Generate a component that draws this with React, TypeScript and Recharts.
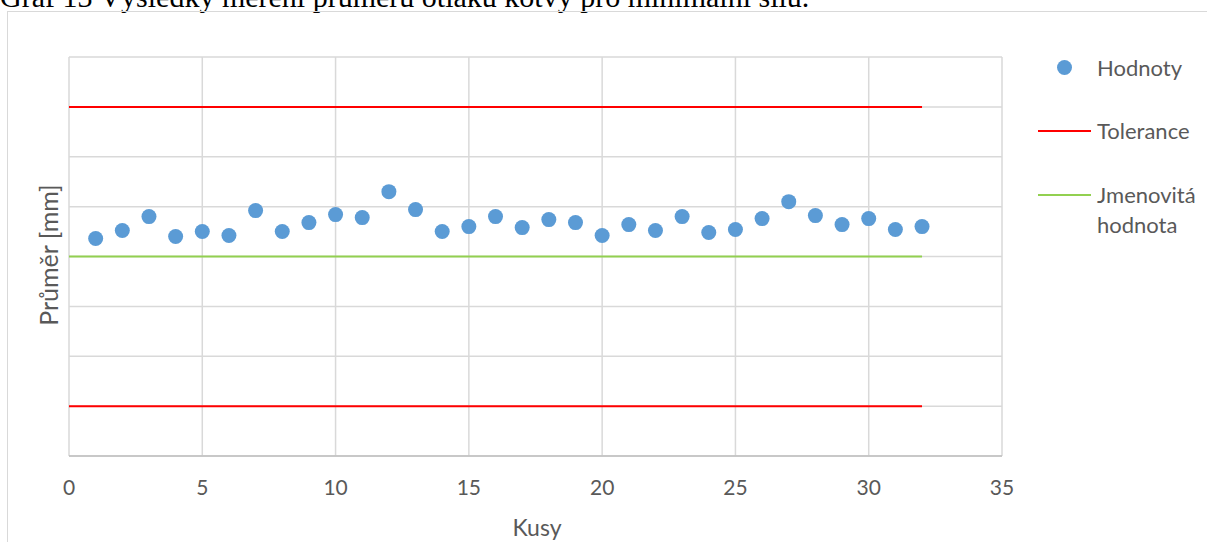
import React from 'react';
import {
  ComposedChart,
  Scatter,
  Line,
  XAxis,
  YAxis,
  CartesianGrid,
} from 'recharts';

// kusy (pieces) and measured mean diameter of the imprint
const kusy = [
  1, 2, 3, 4, 5, 6, 7, 8, 9, 10, 11, 12, 13, 14, 15, 16,
  17, 18, 19, 20, 21, 22, 23, 24, 25, 26, 27, 28, 29, 30, 31, 32,
];
const hodnoty = [
  10.018, 10.026, 10.04, 10.02, 10.025, 10.021, 10.046, 10.025,
  10.034, 10.042, 10.039, 10.065, 10.047, 10.025, 10.03, 10.04,
  10.029, 10.037, 10.034, 10.021, 10.032, 10.026, 10.04, 10.024,
  10.027, 10.038, 10.055, 10.041, 10.032, 10.038, 10.027, 10.03,
];
const lineX = [0, 32];
const tolHorni = [10.15, 10.15];
const tolDolni = [9.85, 9.85];
const jmenovita = [10.0, 10.0];

const xTicks = [0, 5, 10, 15, 20, 25, 30, 35];
const yTicks = [9.8, 9.85, 9.9, 9.95, 10.0, 10.05, 10.1, 10.15, 10.2];

const points = kusy.map((x, i) => ({ x, y: hodnoty[i] }));
const toLine = (ys: number[]) => lineX.map((x, i) => ({ x, y: ys[i] }));

const FONT = 'Lato, "Open Sans", sans-serif';
const TEXT = '#595959';

const Dot = (props: any) => (
  <circle cx={props.cx} cy={props.cy} r={7.5} fill="#5b9bd5" />
);

const App = () => {
  return (
    <div style={{ position: 'absolute', left: 0, top: 0, width: 1207, height: 542, overflow: 'hidden', background: '#fff' }}>
      <div
        style={{
          position: 'absolute',
          left: 0,
          top: -18,
          fontFamily: '"Liberation Serif", "Times New Roman", serif',
          fontSize: 30,
          lineHeight: '30px',
          whiteSpace: 'nowrap',
          color: '#000',
        }}
      >
        Graf 13 Výsledky měření průměru otlaku kotvy pro minimální sílu.
      </div>
      <div
        style={{
          position: 'absolute',
          left: 7,
          top: 11,
          width: 1210,
          height: 540,
          borderLeft: '1.5px solid #d9d9d9',
          borderTop: '1.5px solid #d9d9d9',
        }}
      />
      <div style={{ position: 'absolute', left: 0, top: 0 }}>
        <ComposedChart
          width={1207}
          height={542}
          margin={{ top: 57, left: 69, right: 205, bottom: 46 }}
        >
          <CartesianGrid stroke="#d9d9d9" strokeWidth={1.5} />
          <XAxis
            dataKey="x"
            type="number"
            domain={[0, 35]}
            ticks={xTicks}
            height={40}
            tickSize={0}
            tickMargin={24}
            tickLine={false}
            axisLine={{ stroke: '#bfbfbf', strokeWidth: 1.5 }}
            tick={{ fill: TEXT, fontSize: 21, fontFamily: FONT }}
          />
          <YAxis
            type="number"
            domain={[9.8, 10.2]}
            ticks={yTicks}
            width={0}
            tickFormatter={() => ''}
            tickLine={false}
            axisLine={false}
          />
          <Line
            data={toLine(tolHorni)}
            dataKey="y"
            stroke="#ff0000"
            strokeWidth={2}
            dot={false}
            isAnimationActive={false}
          />
          <Line
            data={toLine(tolDolni)}
            dataKey="y"
            stroke="#ff0000"
            strokeWidth={2}
            dot={false}
            isAnimationActive={false}
          />
          <Line
            data={toLine(jmenovita)}
            dataKey="y"
            stroke="#92d050"
            strokeWidth={2}
            dot={false}
            isAnimationActive={false}
          />
          <Scatter
            data={points}
            dataKey="y"
            shape={Dot}
            isAnimationActive={false}
          />
        </ComposedChart>
      </div>
      {/* axis titles */}
      <div
        style={{
          position: 'absolute',
          left: 48,
          top: 255,
          transform: 'translate(-50%, -50%) rotate(-90deg)',
          fontFamily: FONT,
          fontSize: 25,
          color: TEXT,
          whiteSpace: 'nowrap',
        }}
      >
        Průměr [mm]
      </div>
      <div
        style={{
          position: 'absolute',
          left: 537,
          top: 527,
          transform: 'translate(-50%, -50%)',
          fontFamily: FONT,
          fontSize: 23,
          color: TEXT,
        }}
      >
        Kusy
      </div>
      {/* legend */}
      <div style={{ position: 'absolute', left: 1038, top: 0, fontFamily: FONT, fontSize: 22, color: TEXT, lineHeight: '30px' }}>
        <div style={{ position: 'absolute', top: 60, left: 19, width: 15, height: 15, borderRadius: '50%', background: '#5b9bd5' }} />
        <div style={{ position: 'absolute', top: 53, left: 59, whiteSpace: 'nowrap' }}>Hodnoty</div>
        <div style={{ position: 'absolute', top: 130, left: 0, width: 53, height: 2, background: '#ff0000' }} />
        <div style={{ position: 'absolute', top: 116, left: 59, whiteSpace: 'nowrap' }}>Tolerance</div>
        <div style={{ position: 'absolute', top: 194, left: 0, width: 53, height: 2, background: '#92d050' }} />
        <div style={{ position: 'absolute', top: 180, left: 59, whiteSpace: 'nowrap' }}>
          Jmenovitá
          <br />
          hodnota
        </div>
      </div>
    </div>
  );
};

export default App;
